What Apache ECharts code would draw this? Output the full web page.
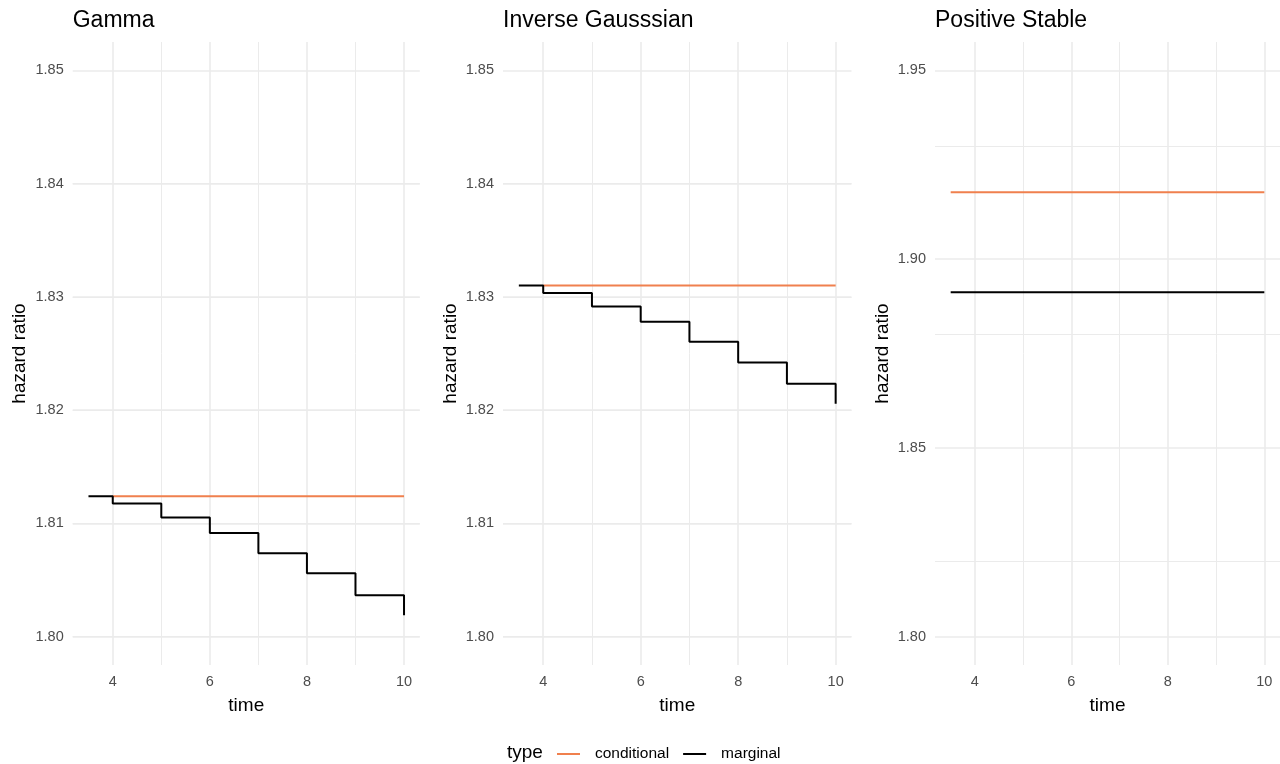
<!DOCTYPE html>
<html>
<head>
<meta charset="utf-8">
<script src="https://cdn.jsdelivr.net/npm/echarts@6/dist/echarts.min.js"></script>
<style>
  html, body { margin: 0; padding: 0; background: #fff; }
  #lineCharts { width: 1280px; height: 764px; }
</style>
</head>
<body>
<div id="lineCharts"></div>
<script>
  // data
  let panelTitles = ['Gamma', 'Inverse Gausssian', 'Positive Stable'];
  let times = [3.5, 4, 5, 6, 7, 8, 9, 10];

  let gammaConditional = [null, 1.8124, 1.8124, 1.8124, 1.8124, 1.8124, 1.8124, 1.8124];
  let gammaMarginal = [1.8124, 1.81175, 1.81053, 1.80915, 1.80737, 1.80559, 1.80366, 1.80190];

  let invGaussConditional = [null, 1.8310, 1.8310, 1.8310, 1.8310, 1.8310, 1.8310, 1.8310];
  let invGaussMarginal = [1.8310, 1.83035, 1.82914, 1.82780, 1.82603, 1.82421, 1.82233, 1.82056];

  let posStableConditional = [1.9177, 1.9177, 1.9177, 1.9177, 1.9177, 1.9177, 1.9177, 1.9177];
  let posStableMarginal = [1.8912, 1.8912, 1.8912, 1.8912, 1.8912, 1.8912, 1.8912, 1.8912];

  let xTickLabels = [4, 6, 8, 10];
  let xMinorBreaks = [5, 7, 9];
  let yTicksSmall = [1.80, 1.81, 1.82, 1.83, 1.84, 1.85];
  let yMinorSmall = [1.805, 1.815, 1.825, 1.835, 1.845];
  let yTicksWide = [1.80, 1.85, 1.90, 1.95];
  let yMinorWide = [1.825, 1.875, 1.925];

  let conditionalColor = '#F0804E';
  let marginalColor = '#000000';
  let gridColor = '#EBEBEB';

  let panels = [
    { cond: gammaConditional, marg: gammaMarginal, ticks: yTicksSmall, minor: yMinorSmall, ymin: 1.7975, ymax: 1.8525, left: 72.7, width: 347.1 },
    { cond: invGaussConditional, marg: invGaussMarginal, ticks: yTicksSmall, minor: yMinorSmall, ymin: 1.7975, ymax: 1.8525, left: 503, width: 348.5 },
    { cond: posStableConditional, marg: posStableMarginal, ticks: yTicksWide, minor: yMinorWide, ymin: 1.7925, ymax: 1.9575, left: 935, width: 347 }
  ];

  function pairs(xs, ys) {
    let out = [];
    for (let i = 0; i < xs.length; i++) {
      out.push([xs[i], ys[i]]);
    }
    return out;
  }

  let grids = [], xAxes = [], yAxes = [], series = [], titles = [];

  for (let i = 0; i < panels.length; i++) {
    let p = panels[i];
    grids.push({ left: p.left, top: 42, width: p.width, height: 623 });

    titles.push({
      text: panelTitles[i],
      left: p.left,
      top: 9,
      padding: 0,
      textStyle: { fontFamily: 'Liberation Sans', fontWeight: 'normal', fontSize: 23, color: '#000' }
    });

    xAxes.push({
      type: 'value',
      gridIndex: i,
      min: 3.175,
      max: 10.325,
      name: 'time',
      nameLocation: 'middle',
      nameGap: 31,
      nameTextStyle: { fontFamily: 'Liberation Sans', fontSize: 19, color: '#000' },
      axisLine: { show: false },
      axisTick: { show: false },
      splitLine: { show: false },
      axisLabel: {
        customValues: xTickLabels,
        margin: 9,
        fontFamily: 'Liberation Sans',
        fontSize: 14.5,
        color: '#4D4D4D'
      }
    });

    yAxes.push({
      type: 'value',
      gridIndex: i,
      min: p.ymin,
      max: p.ymax,
      name: 'hazard ratio',
      nameLocation: 'middle',
      nameGap: 43,
      nameTextStyle: { fontFamily: 'Liberation Sans', fontSize: 19, color: '#000' },
      axisLine: { show: false },
      axisTick: { show: false },
      splitLine: { show: false },
      axisLabel: {
        customValues: p.ticks,
        margin: 9,
        fontFamily: 'Liberation Sans',
        fontSize: 14.5,
        color: '#4D4D4D',
        formatter: function (v) { return v.toFixed(2); }
      }
    });

    // panel grid lines drawn through the axes as mark lines
    let gridLines = [];
    xTickLabels.forEach(function (v) {
      gridLines.push({ xAxis: v, lineStyle: { width: 1.6, color: gridColor, type: 'solid' } });
    });
    xMinorBreaks.forEach(function (v) {
      gridLines.push({ xAxis: v, lineStyle: { width: 1.0, color: gridColor, type: 'solid' } });
    });
    p.ticks.forEach(function (v) {
      gridLines.push({ yAxis: v, lineStyle: { width: 1.6, color: gridColor, type: 'solid' } });
    });
    p.minor.forEach(function (v) {
      gridLines.push({ yAxis: v, lineStyle: { width: 1.0, color: gridColor, type: 'solid' } });
    });

    series.push({
      type: 'line',
      xAxisIndex: i,
      yAxisIndex: i,
      data: [],
      z: 0,
      silent: true,
      markLine: {
        z: 0,
        silent: true,
        symbol: 'none',
        label: { show: false },
        animation: false,
        data: gridLines
      }
    });

    series.push({
      name: 'conditional',
      type: 'line',
      xAxisIndex: i,
      yAxisIndex: i,
      data: pairs(times, p.cond),
      showSymbol: false,
      z: 3,
      lineStyle: { width: 2, color: conditionalColor },
      itemStyle: { color: conditionalColor }
    });

    series.push({
      name: 'marginal',
      type: 'line',
      step: 'end',
      xAxisIndex: i,
      yAxisIndex: i,
      data: pairs(times, p.marg),
      showSymbol: false,
      z: 3,
      lineStyle: { width: 2, color: marginalColor },
      itemStyle: { color: marginalColor }
    });
  }

  // legend title
  titles.push({
    text: 'type',
    left: 507,
    top: 743,
    padding: 0,
    textStyle: { fontFamily: 'Liberation Sans', fontWeight: 'normal', fontSize: 19, color: '#000' }
  });

  let chart = echarts.init(document.getElementById('lineCharts'));
  chart.setOption({
    animation: false,
    backgroundColor: '#FFFFFF',
    title: titles,
    legend: {
      data: ['conditional', 'marginal'],
      left: 557,
      top: 746,
      padding: 0,
      icon: 'rect',
      itemWidth: 23,
      itemHeight: 2,
      itemGap: 14,
      textStyle: {
        fontFamily: 'Liberation Sans',
        fontSize: 15.5,
        color: '#000',
        padding: [0, 0, 0, 10]
      }
    },
    grid: grids,
    xAxis: xAxes,
    yAxis: yAxes,
    series: series
  });
</script>
</body>
</html>
